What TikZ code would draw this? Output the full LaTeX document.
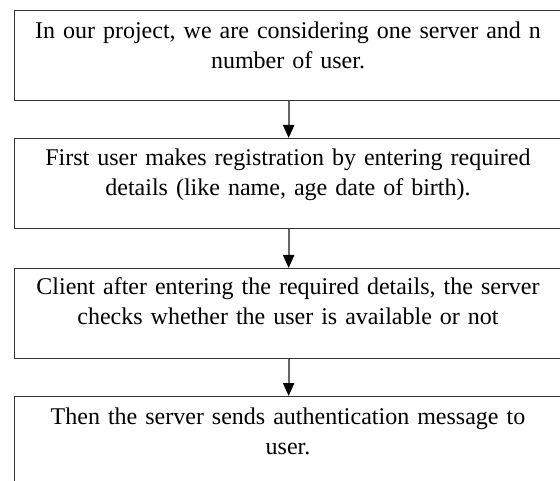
\documentclass[tikz,border=0pt]{standalone}
\usepackage{fontspec}
\setmainfont{Liberation Serif}
\usetikzlibrary{arrows.meta}
\tikzset{
  box/.style={draw=black!80, line width=1.3pt, minimum width=548pt, minimum height=90pt, inner sep=0pt, anchor=north west},
  txt/.style={anchor=base, inner sep=0pt, text width=540pt, align=center, font=\fontsize{24}{30}\selectfont, text=black},
  conn/.style={draw=black!60, line width=2.2pt, -{Triangle[length=13pt,width=11pt,color=black]}}
}
\begin{document}
\begin{tikzpicture}[x=1pt,y=-1pt]
\useasboundingbox (0,0) rectangle (560,481);
\node[box] (b1) at (14,10) {};
\node[box] (b2) at (14,138) {};
\node[box] (b3) at (14,268) {};
\node[box, minimum height=100pt] (b4) at (14,396) {};
\node[txt] (t1) at (288,39) {In our project, we are considering one server and n\\number of user.};
\node[txt] (t2) at (288,166) {First user makes registration by entering required\\details (like name, age date of birth).};
\node[txt] (t3) at (288,295) {Client after entering the required details, the server\\checks whether the user is available or not};
\node[txt] (t4) at (288,424) {Then the server sends authentication message to\\user.};
\draw[conn] (b1.south) -- (b2.north);
\draw[conn] (b2.south) -- (b3.north);
\draw[conn] (b3.south) -- (b4.north);
\end{tikzpicture}
\end{document}
